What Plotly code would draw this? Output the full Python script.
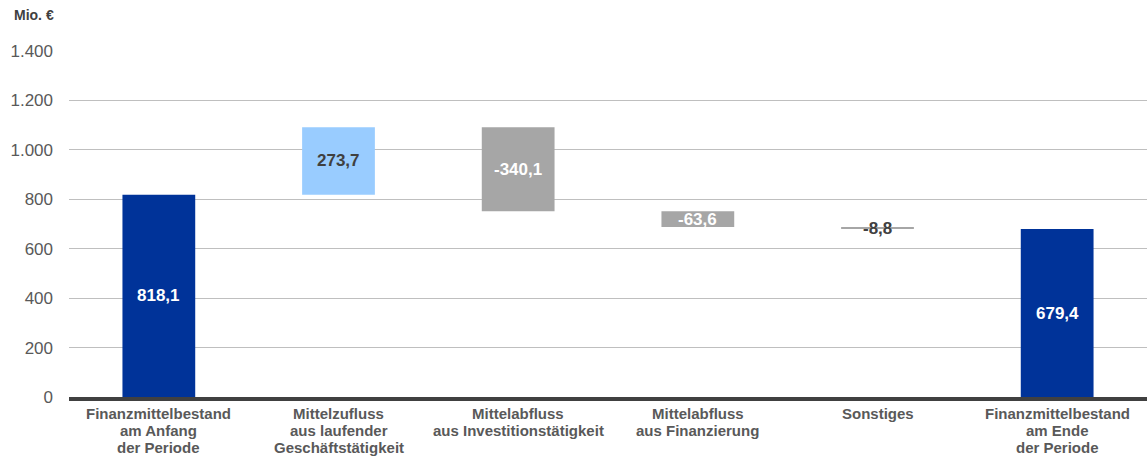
import plotly.graph_objects as go

categories = [
    "Finanzmittelbestand<br>am Anfang<br>der Periode",
    "Mittelzufluss<br>aus laufender<br>Geschäftstätigkeit",
    "Mittelabfluss<br>aus Investitionstätigkeit",
    "Mittelabfluss<br>aus Finanzierung",
    "Sonstiges",
    "Finanzmittelbestand<br>am Ende<br>der Periode",
]
values = [818.1, 273.7, -340.1, -63.6, -8.8, 679.4]
measures = ["absolute", "relative", "relative", "relative", "relative", "total"]
label_colors = ["white", "#404040", "white", "white", "#404040", "white"]

DARK_BLUE = "#003399"
LIGHT_BLUE = "#99ccff"
GRAY = "#a6a6a6"
TEXT = "#595959"
FONT = "Liberation Sans, Arial, sans-serif"

fig = go.Figure(
    go.Waterfall(
        x=categories,
        y=values,
        measure=measures,
        width=0.405,
        textposition="none",
        increasing=dict(marker=dict(color=LIGHT_BLUE)),
        decreasing=dict(marker=dict(color=GRAY)),
        totals=dict(marker=dict(color=DARK_BLUE)),
        connector=dict(visible=False),
        hoverinfo="skip",
    )
)

annotations = []

# value labels centred on each bar
running = 0.0
for cat, val, meas, col in zip(categories, values, measures, label_colors):
    if meas == "absolute":
        lo, hi = 0.0, val
        running = val
    elif meas == "total":
        lo, hi = 0.0, val
    else:
        lo, hi = running, running + val
        running += val
    annotations.append(
        dict(
            x=cat,
            y=(lo + hi) / 2,
            text=f"<b>{val:.1f}</b>".replace(".", ","),
            showarrow=False,
            font=dict(family=FONT, size=17, color=col),
        )
    )

# category labels, one annotation per line for tighter line spacing
for cat in categories:
    for i, line in enumerate(cat.split("<br>")):
        annotations.append(
            dict(
                x=cat,
                y=0,
                yref="y",
                text=f"<b>{line}</b>",
                showarrow=False,
                yanchor="middle",
                yshift=-16 - 17 * i,
                font=dict(family=FONT, size=15, color=TEXT),
            )
        )

annotations.append(
    dict(
        text="<b>Mio. €</b>",
        x=0,
        y=1,
        xref="paper",
        yref="paper",
        xanchor="left",
        yanchor="middle",
        xshift=-57,
        yshift=36,
        showarrow=False,
        font=dict(family=FONT, size=14, color="#404040"),
    )
)

fig.update_layout(
    width=1147,
    height=456,
    margin=dict(l=69, r=0, t=51, b=59),
    plot_bgcolor="white",
    paper_bgcolor="white",
    separators=",.",
    showlegend=False,
    annotations=annotations,
    font=dict(family=FONT),
)
fig.update_xaxes(
    showticklabels=False,
    showgrid=False,
    showline=True,
    linecolor="#404040",
    linewidth=4,
)
fig.update_yaxes(
    range=[0, 1400],
    dtick=200,
    tickformat=",",
    tickfont=dict(family=FONT, size=17, color=TEXT),
    gridcolor="#bfbfbf",
    gridwidth=1,
    zeroline=False,
    ticklabelstandoff=15,
)

fig.write_html(
    "out.html",
    config={"displayModeBar": False},
    post_script="document.body.style.margin='0';",
)
